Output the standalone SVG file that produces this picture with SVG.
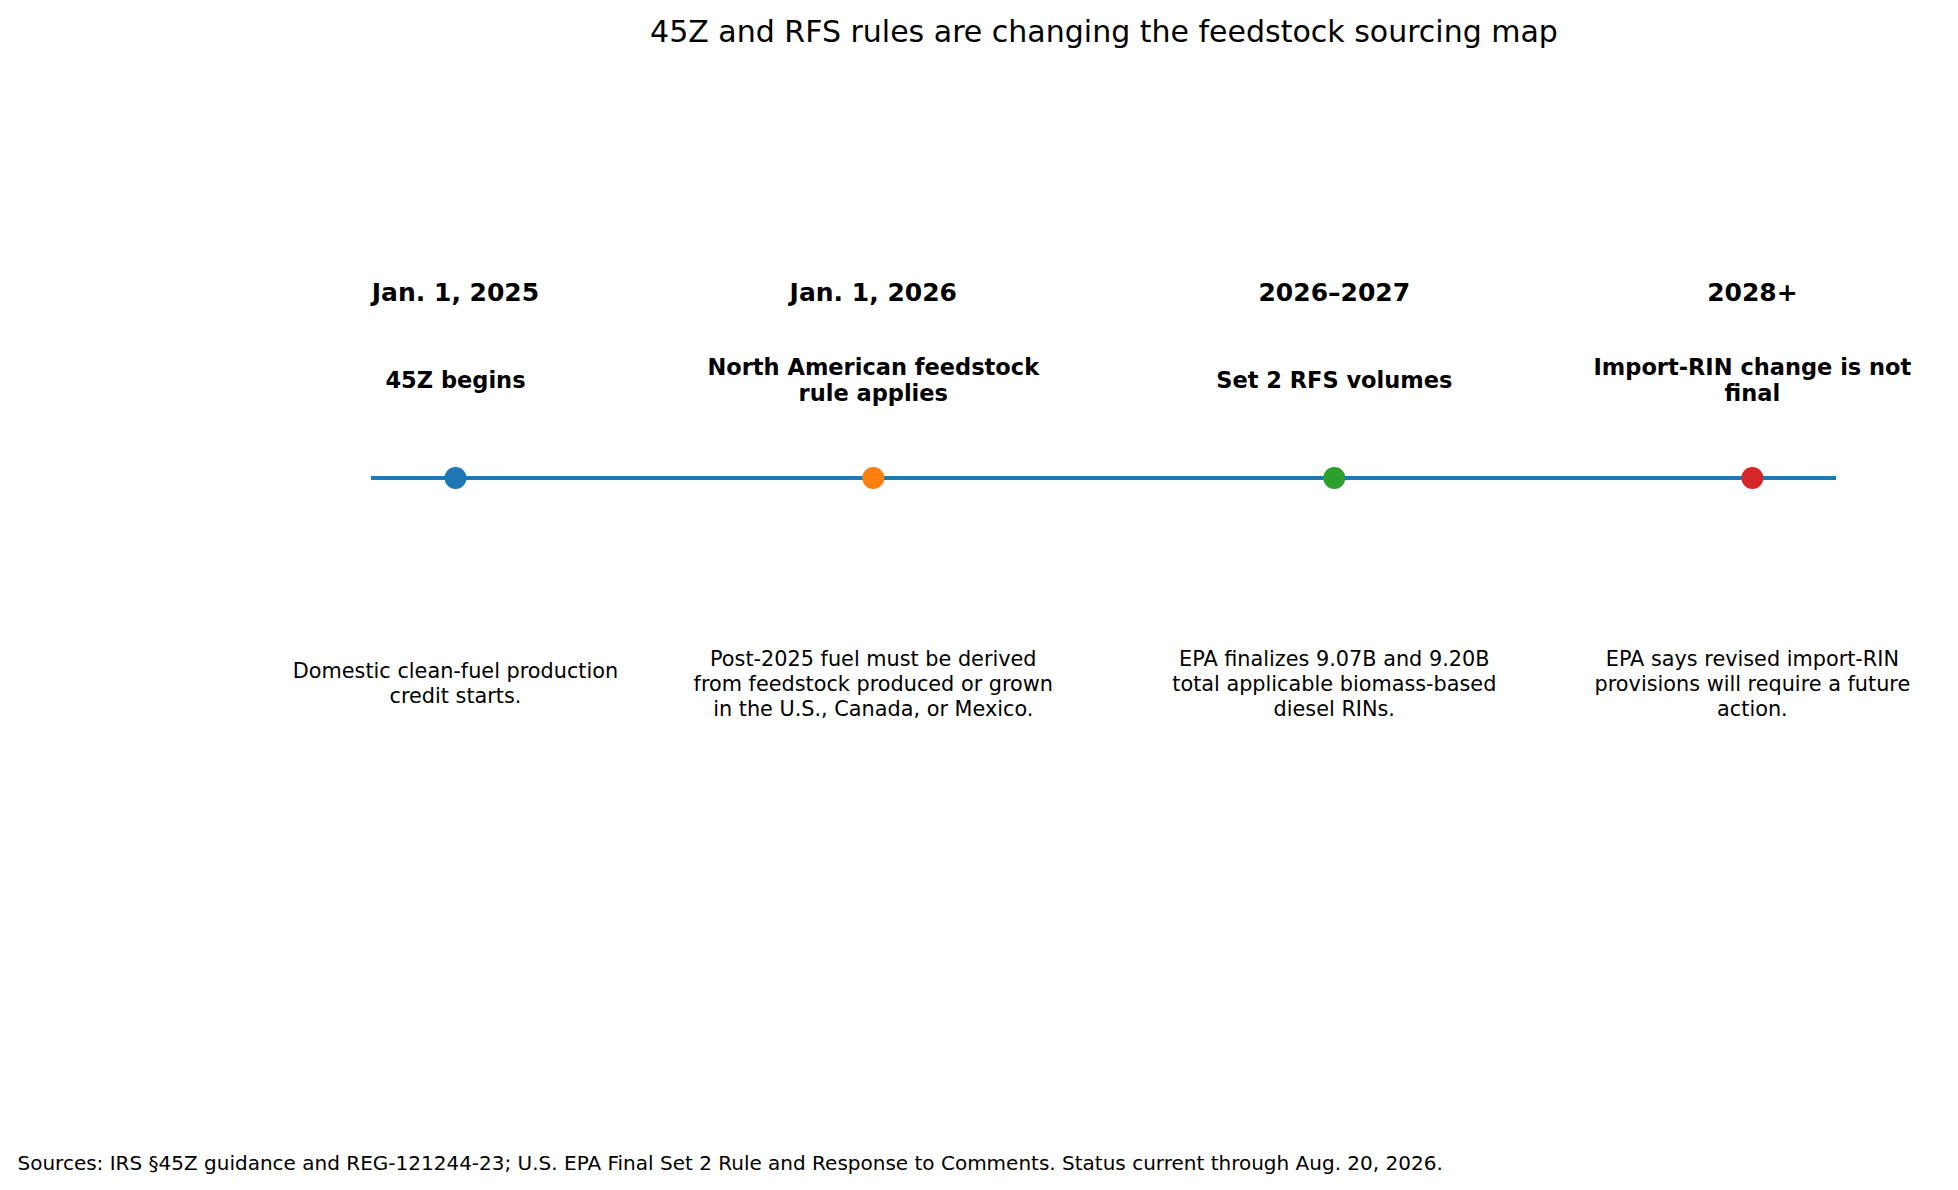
<svg xmlns="http://www.w3.org/2000/svg" width="1958" height="1190" viewBox="0 0 1958 1190">
<style>
text{font-family:"DejaVu Sans","Liberation Sans",sans-serif;fill:#000;text-anchor:middle}
.title{font-size:30px}
.date{font-size:25px;font-weight:bold}
.head{font-size:22.5px;font-weight:bold}
.desc{font-size:20.8px}
.src{font-size:20px;text-anchor:start}
</style>
<rect width="1958" height="1190" fill="#fff"/>
<text class="title" x="1104" y="42">45Z and RFS rules are changing the feedstock sourcing map</text>
<g id="connectors">
<line x1="371" y1="478" x2="1836" y2="478" stroke="#1f77b4" stroke-width="4"/>
</g>
<g id="node-2025">
<circle cx="455.5" cy="478" r="11" fill="#1f77b4"/>
<text class="date" x="455.5" y="301">Jan. 1, 2025</text>
<text class="head" x="455.5" y="388">45Z begins</text>
<text class="desc" x="455.5" y="678">Domestic clean-fuel production</text>
<text class="desc" x="455.5" y="703">credit starts.</text>
</g>
<g id="node-2026">
<circle cx="873.3" cy="478" r="11" fill="#ff7f0e"/>
<text class="date" x="873.3" y="301">Jan. 1, 2026</text>
<text class="head" x="873.3" y="375">North American feedstock</text>
<text class="head" x="873.3" y="401">rule applies</text>
<text class="desc" x="873.3" y="666">Post-2025 fuel must be derived</text>
<text class="desc" x="873.3" y="691">from feedstock produced or grown</text>
<text class="desc" x="873.3" y="716">in the U.S., Canada, or Mexico.</text>
</g>
<g id="node-2026-2027">
<circle cx="1334.3" cy="478" r="11" fill="#2ca02c"/>
<text class="date" x="1334.3" y="301">2026–2027</text>
<text class="head" x="1334.3" y="388">Set 2 RFS volumes</text>
<text class="desc" x="1334.3" y="666">EPA finalizes 9.07B and 9.20B</text>
<text class="desc" x="1334.3" y="691">total applicable biomass-based</text>
<text class="desc" x="1334.3" y="716">diesel RINs.</text>
</g>
<g id="node-2028">
<circle cx="1752.4" cy="478" r="11" fill="#d62728"/>
<text class="date" x="1752.4" y="301">2028+</text>
<text class="head" x="1752.4" y="375">Import-RIN change is not</text>
<text class="head" x="1752.4" y="401">final</text>
<text class="desc" x="1752.4" y="666">EPA says revised import-RIN</text>
<text class="desc" x="1752.4" y="691">provisions will require a future</text>
<text class="desc" x="1752.4" y="716">action.</text>
</g>
<text class="src" x="17.5" y="1170">Sources: IRS §45Z guidance and REG-121244-23; U.S. EPA Final Set 2 Rule and Response to Comments. Status current through Aug. 20, 2026.</text>
</svg>
